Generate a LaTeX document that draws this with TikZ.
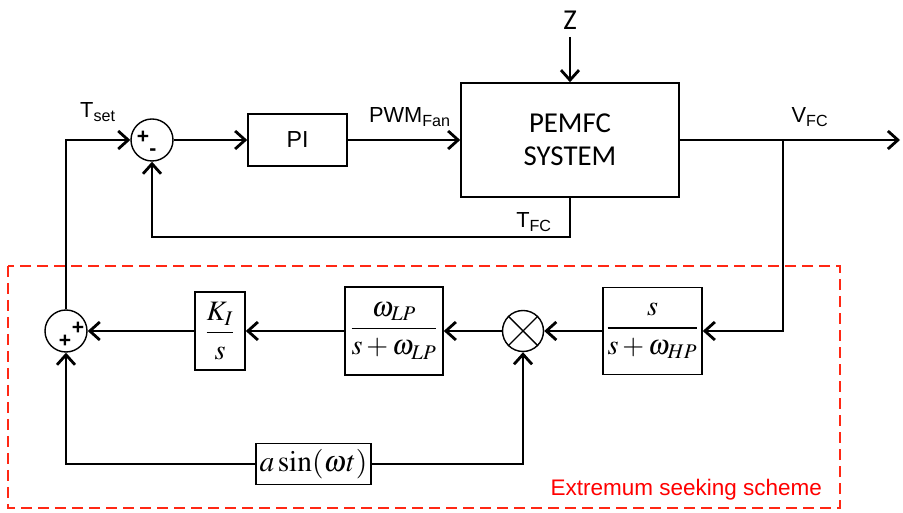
\documentclass[tikz,border=0pt]{standalone}
\usepackage{amsmath}
\usepackage{mathptmx}
\usepackage{fontspec}
\setmainfont{Liberation Sans}
\newfontfamily\calfont{Carlito}
\usetikzlibrary{arrows.meta}
\definecolor{esred}{RGB}{255,40,20}

\begin{document}
\begin{tikzpicture}[>={Straight Barb[length=2.5mm,width=4.5mm]}, line width=2pt,
  font=\fontsize{15.5}{18}\selectfont,
  block/.style={draw, line width=1.1pt, inner sep=0pt},
  sumnode/.style={draw, circle, line width=1pt, minimum size=1.05cm, inner sep=0pt},
  sig/.style={font=\fontsize{15}{15}\selectfont\bfseries, inner sep=0pt},
  mathtf/.style={font=\fontsize{20}{22}\selectfont}]
  \useasboundingbox (0,0) rectangle (22.575,12.825);
  % Nodes
  \node[sumnode] (sum1) at (3.8,9.325) {};
  \node[sig] at ([shift={(-0.225,0.075)}]sum1.center) {+};
  \node[sig] at ([shift={(0.025,-0.3)}]sum1.center) {-};
  \node[block, minimum width=2.475cm, minimum height=1.3cm, font=\fontsize{16.5}{18}\selectfont] (pi) at (7.4375,9.325) {PI};
  \node[block, minimum width=5.45cm, minimum height=2.85cm, align=center, font=\calfont\fontsize{20.5}{23.5}\selectfont] (plant) at (14.25,9.325) {PEMFC\\SYSTEM};
  \node[font=\calfont\fontsize{20.5}{20}\selectfont] (z) at (14.25,12.325) {Z};
  \coordinate (zin) at (14.25,11.9);
  \coordinate (vfcb) at (19.575,9.325);
  \coordinate (out) at (22.5,9.325);
  \coordinate (tfcb) at (14.25,6.9);
  \node[sumnode] (sum2) at (1.65,4.55) {};
  \node[sig] at ([shift={(0.3,0.075)}]sum2.center) {+};
  \node[sig] at ([shift={(-0.025,-0.25)}]sum2.center) {+};
  \node[block, mathtf, minimum width=1.25cm, minimum height=1.95cm] (ki) at (5.5,4.55) {$\dfrac{K_I}{s}$};
  \node[block, mathtf, minimum width=2.45cm, minimum height=2.2cm] (lp) at (9.85,4.55) {$\dfrac{\omega_{LP}}{s+\omega_{LP}}$};
  \node[sumnode, minimum size=1.025cm] (mult) at (13.075,4.55) {};
  \draw[line width=1pt] (mult.north west) -- (mult.south east);
  \draw[line width=1pt] (mult.north east) -- (mult.south west);
  \node[block, mathtf, minimum width=2.475cm, minimum height=2.175cm] (hp) at (16.3125,4.55) {$\dfrac{s}{s+\omega_{HP}}$};
  \node[block, font=\fontsize{21}{22}\selectfont, minimum width=2.875cm, minimum height=1.025cm] (sine) at (7.8375,1.225) {$a\sin(\omega t)$};
  % Labels
  \node (tsetlab) at (2.45,10.025) {T\textsubscript{set}};
  \node (pwmlab) at (10.25,9.9) {PWM\textsubscript{Fan}};
  \node (vfclab) at (20.25,9.9) {V\textsubscript{FC}};
  \node (tfclab) at (13.35,7.275) {T\textsubscript{FC}};
  % Upper loop
  \draw[->] (sum1) -- (pi);
  \draw[->] (pi) -- (plant);
  \draw[->] (zin) -- (plant.north);
  \draw[->] (plant) -- (out);
  \draw[->] (plant.south) -- (tfcb) -| (sum1.south);
  % Extremum seeking loop
  \draw[->] (vfcb) |- (hp.east);
  \draw[->] (hp) -- (mult);
  \draw[->] (mult) -- (lp);
  \draw[->] (lp) -- (ki);
  \draw[->] (ki) -- (sum2);
  \draw[->] (sum2.north) |- (sum1.west);
  \draw[->] (sine.west) -| (sum2.south);
  \draw[->] (sine.east) -| (mult.south);
  % Scheme frame
  \draw[esred, line width=1.1pt, dash pattern=on 2.75mm off 1.5mm] (0.2,6.175) rectangle (21,0.125);
  \node[anchor=east, text=red, font=\fontsize{16}{18}\selectfont] (eslab) at (20.7,0.575) {Extremum seeking scheme};
\end{tikzpicture}
\end{document}
